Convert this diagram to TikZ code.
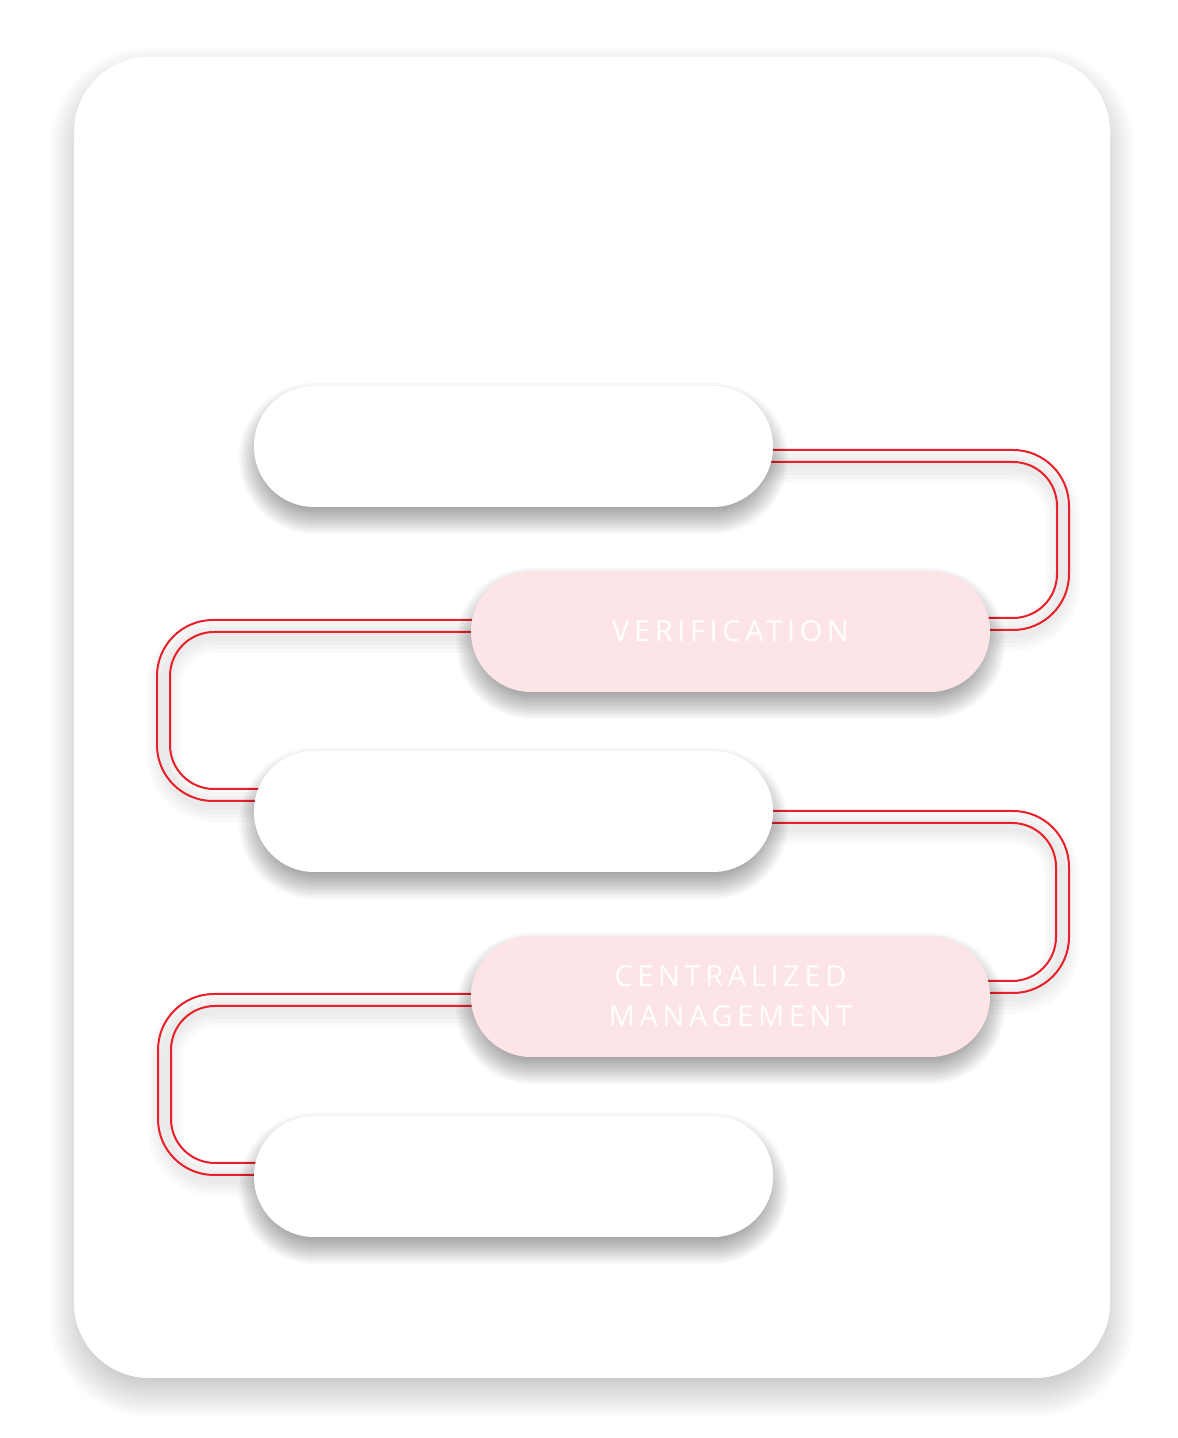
\documentclass[tikz,border=0pt]{standalone}
\usepackage{fontspec}
\newfontfamily\lblfont[LetterSpace=16]{Open Sans}
\definecolor{pinkfill}{HTML}{FDE4E6}
\definecolor{linered}{HTML}{E8202A}
\tikzset{
  card/.style={fill=white, rounded corners=75pt},
  pill/.style={rectangle, rounded corners=60pt, minimum width=519pt, minimum height=121pt,
    inner sep=0pt, align=center, text=white},
  whitepill/.style={pill, fill=white},
  pinkpill/.style={pill, fill=pinkfill, font=\lblfont\fontsize{29}{40}\selectfont},
  conn/.style={draw=linered, line width=2pt},
  outerc/.style={conn, rounded corners=56pt},
  innerc/.style={conn, rounded corners=44pt},
  connshadow/.style={draw=black, draw opacity=0.018, rounded corners=50pt},
}
% soft shadow: x1 y1 x2 y2 radius spread opacity-per-layer
\newcommand{\softshade}[7]{%
  \foreach \k in {0,...,15}{%
    \pgfmathsetmacro{\ee}{#6*(1-\k/7.5)}%
    \pgfmathsetmacro{\rr}{max(#5+\ee,1)}%
    \fill[black, fill opacity=#7, rounded corners=\rr pt]
      (#1-\ee,#2-\ee) rectangle (#3+\ee,#4+\ee);
  }%
}
\newcommand{\pillshade}[1]{% centre given as x,y numbers via coordinate name
  \path (#1); \pgfgetlastxy{\px}{\py}%
  \softshade{\px-259.5}{\py-60.5-12}{\px+259.5}{\py+60.5-12}{60.5}{15}{0.026}%
}
\begin{document}
\begin{tikzpicture}[x=1pt,y=1pt]
\useasboundingbox[fill=white] (0,0) rectangle (1178,1438);
\softshade{74}{60-15}{1110}{1381-15}{75}{24}{0.017}
\fill[card] (74,60) rectangle (1110,1381);

% pill centres
\coordinate (p1c) at (513.5,991.5);
\coordinate (vc) at (730.5,806.5);
\coordinate (p2c) at (513.5,626.5);
\coordinate (cc) at (730.5,441.5);
\coordinate (p3c) at (513.5,261.5);

% connector corners
\coordinate (r1o) at (1069,988);
\coordinate (r1i) at (1057,976);
\coordinate (l1o) at (157,818);
\coordinate (l1i) at (170,806);
\coordinate (r2o) at (1069,627);
\coordinate (r2i) at (1056,615);
\coordinate (l2o) at (158,444);
\coordinate (l2i) at (171,432);

% faint shadows of the connectors
\begin{scope}[yshift=-10pt]
\foreach \w in {34,26,18,10}{
  \draw[connshadow, line width=\w pt] (p1c |- 0,982) -- (1063,982) -- (1063,814) -- (vc |- 0,814);
  \draw[connshadow, line width=\w pt] (vc |- 0,812) -- (164,812) -- (164,643) -- (p2c |- 0,643);
  \draw[connshadow, line width=\w pt] (p2c |- 0,621) -- (1062,621) -- (1062,451) -- (cc |- 0,451);
  \draw[connshadow, line width=\w pt] (cc |- 0,438) -- (165,438) -- (165,269) -- (p3c |- 0,269);
}
\end{scope}

\draw[outerc] (p1c |- r1o) -- (r1o) -- (r1o |- 0,808) -- (vc |- 0,808);
\draw[innerc] (p1c |- r1i) -- (r1i) -- (r1i |- 0,820) -- (vc |- 0,820);
\draw[outerc] (vc |- l1o) -- (l1o) -- (l1o |- 0,637) -- (p2c |- 0,637);
\draw[innerc] (vc |- l1i) -- (l1i) -- (l1i |- 0,649) -- (p2c |- 0,649);
\draw[outerc] (p2c |- r2o) -- (r2o) -- (r2o |- 0,445) -- (cc |- 0,445);
\draw[innerc] (p2c |- r2i) -- (r2i) -- (r2i |- 0,457) -- (cc |- 0,457);
\draw[outerc] (cc |- l2o) -- (l2o) -- (l2o |- 0,263) -- (p3c |- 0,263);
\draw[innerc] (cc |- l2i) -- (l2i) -- (l2i |- 0,275) -- (p3c |- 0,275);

\pillshade{p1c}
\node[whitepill] (p1) at (p1c) {};
\pillshade{vc}
\node[pinkpill] (v) at (vc) {VERIFICATION};
\pillshade{p2c}
\node[whitepill] (p2) at (p2c) {};
\pillshade{cc}
\node[pinkpill] (c) at (cc) {CENTRALIZED\\MANAGEMENT};
\pillshade{p3c}
\node[whitepill] (p3) at (p3c) {};
\end{tikzpicture}
\end{document}
